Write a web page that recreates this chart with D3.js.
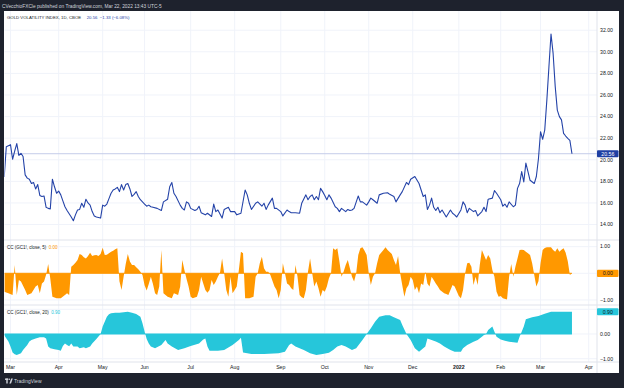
<!DOCTYPE html>
<html>
<head>
<meta charset="utf-8">
<script src="https://cdn.jsdelivr.net/npm/d3@7"></script>
<style>
  body { margin: 0; background: #1e222d; }
  svg { display: block; font-family: "Liberation Sans", Arial, sans-serif; }
</style>
</head>
<body>
<div id="chart"></div>
<script>
// Gold volatility index (daily close)
var volSeries = [
  ["2021-02-24",18.4],["2021-02-25",21.2],["2021-02-26",21.3],["2021-03-01",21.4],["2021-03-02",20.05],["2021-03-03",20.8],
  ["2021-03-04",21.5],["2021-03-05",20.4],["2021-03-08",20.6],["2021-03-09",20.3],["2021-03-10",18.6],["2021-03-11",18.3],
  ["2021-03-12",18.2],["2021-03-15",17.8],["2021-03-16",17.9],["2021-03-17",17.3],["2021-03-18",17.7],["2021-03-19",16.7],
  ["2021-03-22",16.6],["2021-03-23",16.65],["2021-03-24",15.6],["2021-03-25",15.5],["2021-03-26",15.45],["2021-03-29",18.2],
  ["2021-03-30",17.5],["2021-03-31",16.9],["2021-04-01",17.1],["2021-04-05",16.75],["2021-04-06",16.2],["2021-04-07",15.65],
  ["2021-04-08",15.3],["2021-04-09",15.0],["2021-04-12",14.7],["2021-04-13",14.35],["2021-04-14",14.9],["2021-04-15",15.35],
  ["2021-04-16",15.4],["2021-04-19",15.97],["2021-04-20",15.6],["2021-04-21",16.35],["2021-04-22",16.0],["2021-04-23",15.8],
  ["2021-04-26",15.2],["2021-04-27",14.8],["2021-04-28",14.7],["2021-04-29",14.65],["2021-04-30",14.6],["2021-05-03",15.8],
  ["2021-05-04",15.7],["2021-05-05",15.9],["2021-05-06",16.4],["2021-05-07",16.9],["2021-05-10",17.2],["2021-05-11",17.3],
  ["2021-05-12",17.45],["2021-05-13",17.05],["2021-05-14",17.7],["2021-05-17",17.2],["2021-05-18",17.7],["2021-05-19",17.8],
  ["2021-05-20",17.3],["2021-05-21",16.6],["2021-05-24",16.8],["2021-05-25",17.05],["2021-05-26",16.6],["2021-05-27",16.3],
  ["2021-05-28",16.1],["2021-06-01",15.9],["2021-06-02",15.7],["2021-06-03",15.8],["2021-06-04",15.65],["2021-06-07",15.6],
  ["2021-06-09",15.5],["2021-06-11",15.3],["2021-06-14",16.1],["2021-06-16",16.35],["2021-06-17",17.5],["2021-06-18",17.9],
  ["2021-06-21",16.9],["2021-06-22",16.6],["2021-06-24",15.8],["2021-06-25",15.5],["2021-06-28",15.35],["2021-06-29",16.1],
  ["2021-06-30",15.97],["2021-07-01",15.5],["2021-07-06",15.3],["2021-07-07",15.4],["2021-07-08",15.7],["2021-07-09",15.1],
  ["2021-07-13",14.9],["2021-07-14",15.05],["2021-07-16",14.75],["2021-07-19",15.9],["2021-07-20",15.2],["2021-07-21",15.35],
  ["2021-07-23",14.6],["2021-07-26",15.4],["2021-07-28",15.6],["2021-07-29",15.2],["2021-08-02",15.2],["2021-08-03",14.9],
  ["2021-08-05",15.05],["2021-08-09",17.2],["2021-08-10",16.75],["2021-08-11",15.97],["2021-08-12",15.4],["2021-08-16",15.97],
  ["2021-08-17",16.1],["2021-08-19",15.7],["2021-08-20",15.97],["2021-08-23",15.4],["2021-08-24",15.8],["2021-08-26",16.45],
  ["2021-08-27",15.5],["2021-08-30",15.5],["2021-09-01",15.2],["2021-09-02",14.8],["2021-09-07",15.35],["2021-09-08",15.2],
  ["2021-09-09",15.1],["2021-09-13",15.1],["2021-09-15",15.05],["2021-09-16",15.97],["2021-09-20",16.75],["2021-09-21",16.3],
  ["2021-09-22",16.6],["2021-09-23",16.75],["2021-09-24",16.3],["2021-09-27",16.6],["2021-09-28",16.3],["2021-09-29",17.35],
  ["2021-09-30",17.05],["2021-10-01",16.7],["2021-10-04",16.3],["2021-10-05",16.75],["2021-10-06",16.45],["2021-10-08",15.65],
  ["2021-10-11",15.5],["2021-10-12",15.2],["2021-10-13",15.5],["2021-10-15",15.2],["2021-10-18",15.4],["2021-10-19",15.3],
  ["2021-10-20",15.35],["2021-10-21",15.5],["2021-10-25",16.65],["2021-10-26",16.1],["2021-10-27",16.1],["2021-10-29",15.8],
  ["2021-11-01",16.1],["2021-11-02",16.45],["2021-11-03",16.3],["2021-11-05",15.97],["2021-11-08",16.75],["2021-11-10",16.9],
  ["2021-11-12",16.95],["2021-11-15",16.8],["2021-11-17",16.6],["2021-11-18",16.1],["2021-11-22",16.75],["2021-11-23",17.05],
  ["2021-11-26",17.9],["2021-11-29",17.7],["2021-11-30",18.2],["2021-12-02",18.45],["2021-12-06",17.8],["2021-12-07",17.2],
  ["2021-12-08",16.6],["2021-12-09",16.75],["2021-12-10",15.4],["2021-12-13",15.8],["2021-12-14",16.45],["2021-12-15",15.6],
  ["2021-12-16",15.3],["2021-12-17",15.6],["2021-12-20",15.1],["2021-12-21",15.35],["2021-12-23",14.7],["2021-12-28",15.35],
  ["2021-12-29",15.05],["2021-12-30",14.9],["2021-12-31",14.7],["2022-01-04",15.35],["2022-01-05",16.1],["2022-01-06",15.8],
  ["2022-01-07",15.1],["2022-01-10",15.5],["2022-01-12",15.2],["2022-01-13",15.3],["2022-01-14",14.8],["2022-01-19",15.2],
  ["2022-01-20",15.6],["2022-01-21",15.2],["2022-01-24",16.35],["2022-01-26",16.45],["2022-01-27",17.15],["2022-01-28",16.9],
  ["2022-01-31",16.6],["2022-02-01",16.3],["2022-02-02",15.7],["2022-02-03",15.9],["2022-02-04",15.6],["2022-02-07",16.1],
  ["2022-02-09",15.65],["2022-02-10",15.8],["2022-02-11",17.35],["2022-02-14",17.8],["2022-02-15",18.9],["2022-02-16",17.95],
  ["2022-02-17",19.7],["2022-02-18",18.9],["2022-02-22",18.1],["2022-02-24",17.8],["2022-02-25",18.45],["2022-02-28",20.1],
  ["2022-03-01",22.6],["2022-03-02",21.9],["2022-03-03",22.75],["2022-03-04",25.5],["2022-03-07",28.6],["2022-03-08",31.65],
  ["2022-03-09",29.85],["2022-03-10",26.8],["2022-03-11",24.6],["2022-03-14",24.0],["2022-03-15",23.7],["2022-03-16",22.45],
  ["2022-03-17",22.2],["2022-03-18",21.99],["2022-03-21",21.8],["2022-03-22",20.56]
];

// Correlation coefficient with GC1!, 5 bars
var cc5Series = [
  ["2021-02-24",-0.69],["2021-02-26",-0.75],["2021-03-02",-0.81],["2021-03-03",0.31],["2021-03-04",-0.81],["2021-03-05",-0.25],
  ["2021-03-08",-0.31],["2021-03-10",-0.63],["2021-03-11",-0.81],["2021-03-15",-0.75],["2021-03-17",-0.5],["2021-03-18",-0.44],
  ["2021-03-19",-0.75],["2021-03-22",-0.38],["2021-03-23",-0.31],["2021-03-24",-0.05],["2021-03-25",0.35],["2021-03-26",-0.2],
  ["2021-03-29",-0.88],["2021-03-31",-0.94],["2021-04-05",-0.94],["2021-04-07",-0.81],["2021-04-08",-0.75],["2021-04-09",-0.81],
  ["2021-04-12",0.25],["2021-04-13",0.31],["2021-04-14",0.4],["2021-04-15",0.5],["2021-04-16",0.72],["2021-04-19",0.69],
  ["2021-04-20",0.6],["2021-04-21",0.56],["2021-04-22",0.65],["2021-04-23",0.77],["2021-04-26",0.65],["2021-04-27",0.68],
  ["2021-04-28",0.69],["2021-04-29",0.65],["2021-04-30",0.72],["2021-05-03",0.96],["2021-05-04",0.69],["2021-05-05",0.7],
  ["2021-05-06",0.75],["2021-05-07",0.81],["2021-05-10",0.85],["2021-05-11",0.9],["2021-05-12",0.94],["2021-05-13",-0.3],
  ["2021-05-14",-0.63],["2021-05-17",-0.13],["2021-05-18",0.35],["2021-05-19",0.72],["2021-05-20",0.44],["2021-05-21",0.31],
  ["2021-05-24",0.31],["2021-05-25",0.23],["2021-05-26",0.15],["2021-05-27",0.06],["2021-05-28",-0.06],["2021-06-01",-0.45],
  ["2021-06-02",-0.65],["2021-06-03",-0.4],["2021-06-04",-0.13],["2021-06-07",-0.4],["2021-06-08",-0.75],["2021-06-09",-0.81],
  ["2021-06-10",-0.5],["2021-06-11",0.87],["2021-06-14",-0.75],["2021-06-16",-0.88],["2021-06-18",-0.94],["2021-06-21",-0.75],
  ["2021-06-23",-0.81],["2021-06-24",-0.5],["2021-06-25",0.5],["2021-06-28",0.12],["2021-06-29",-0.2],["2021-06-30",-0.5],
  ["2021-07-01",-0.88],["2021-07-02",-0.94],["2021-07-07",-0.88],["2021-07-08",-0.63],["2021-07-09",-0.13],["2021-07-12",-0.38],
  ["2021-07-13",-0.63],["2021-07-14",-0.73],["2021-07-15",-0.63],["2021-07-16",-0.25],["2021-07-19",-0.44],["2021-07-20",-0.31],
  ["2021-07-21",-0.13],["2021-07-22",0.02],["2021-07-23",0.56],["2021-07-26",0],["2021-07-27",-0.63],["2021-07-28",-0.88],
  ["2021-07-29",-0.13],["2021-07-30",-0.75],["2021-08-02",-0.63],["2021-08-03",-0.5],["2021-08-04",0.12],["2021-08-05",0.81],
  ["2021-08-06",0.75],["2021-08-09",-0.94],["2021-08-11",-0.94],["2021-08-13",-0.88],["2021-08-16",-0.13],["2021-08-17",0],
  ["2021-08-18",0.38],["2021-08-19",0.62],["2021-08-20",0.19],["2021-08-23",0.06],["2021-08-24",0.06],["2021-08-25",-0.05],
  ["2021-08-27",-0.5],["2021-08-30",-0.63],["2021-08-31",-0.94],["2021-09-01",-0.63],["2021-09-02",0.38],["2021-09-03",0],
  ["2021-09-07",-0.38],["2021-09-08",-0.44],["2021-09-09",-0.56],["2021-09-10",-0.63],["2021-09-13",0.31],["2021-09-14",-0.13],
  ["2021-09-15",-0.81],["2021-09-16",-0.9],["2021-09-17",-0.94],["2021-09-20",-0.63],["2021-09-21",0.06],["2021-09-22",0.56],
  ["2021-09-23",0],["2021-09-24",-0.5],["2021-09-27",-0.31],["2021-09-28",-0.56],["2021-09-29",-0.88],["2021-09-30",-0.63],
  ["2021-10-01",-0.69],["2021-10-04",-0.5],["2021-10-05",-0.19],["2021-10-06",0],["2021-10-07",0.94],["2021-10-08",0.87],
  ["2021-10-11",0.94],["2021-10-12",0.44],["2021-10-13",-0.13],["2021-10-14",0.06],["2021-10-15",0.31],["2021-10-18",0.5],
  ["2021-10-19",0.19],["2021-10-20",-0.13],["2021-10-21",-0.31],["2021-10-22",0],["2021-10-25",0.69],["2021-10-26",0.94],
  ["2021-10-27",0.98],["2021-10-28",0.85],["2021-10-29",0.69],["2021-11-01",0],["2021-11-02",-0.44],["2021-11-03",-0.13],
  ["2021-11-04",0],["2021-11-05",0.38],["2021-11-08",0.69],["2021-11-09",0.78],["2021-11-10",0.87],["2021-11-11",0.98],
  ["2021-11-12",0.87],["2021-11-15",0.8],["2021-11-16",0.72],["2021-11-17",0.5],["2021-11-18",0.31],["2021-11-19",0.65],
  ["2021-11-22",0],["2021-11-23",-0.45],["2021-11-24",-0.88],["2021-11-26",-0.56],["2021-11-29",-0.44],["2021-11-30",-0.13],
  ["2021-12-01",-0.25],["2021-12-02",-0.63],["2021-12-03",-0.5],["2021-12-06",-0.75],["2021-12-07",-0.38],["2021-12-08",-0.44],
  ["2021-12-09",0.06],["2021-12-10",-0.38],["2021-12-13",-0.5],["2021-12-14",-0.13],["2021-12-15",-0.25],["2021-12-16",-0.38],
  ["2021-12-17",-0.5],["2021-12-20",-0.63],["2021-12-22",-0.75],["2021-12-23",-0.78],["2021-12-27",-0.81],["2021-12-28",-0.63],
  ["2021-12-29",-0.44],["2021-12-30",-0.5],["2022-01-03",-0.85],["2022-01-04",-0.94],["2022-01-05",-0.63],["2022-01-06",0],
  ["2022-01-07",0.38],["2022-01-10",0.4],["2022-01-11",0.25],["2022-01-12",-0.44],["2022-01-13",-0.13],["2022-01-14",-0.44],
  ["2022-01-18",0.31],["2022-01-19",0.87],["2022-01-20",0.69],["2022-01-21",0.5],["2022-01-24",0.69],["2022-01-25",0.56],
  ["2022-01-26",0.12],["2022-01-27",-0.13],["2022-01-28",-0.69],["2022-01-31",-0.88],["2022-02-01",-0.85],["2022-02-02",-0.94],
  ["2022-02-04",-0.98],["2022-02-07",-0.13],["2022-02-08",0.35],["2022-02-09",-0.13],["2022-02-10",0.25],["2022-02-11",0.56],
  ["2022-02-14",0.87],["2022-02-15",0.88],["2022-02-16",0.87],["2022-02-17",0.81],["2022-02-18",0.75],["2022-02-22",0.69],
  ["2022-02-23",0.38],["2022-02-24",-0.06],["2022-02-25",-0.5],["2022-02-28",-0.3],["2022-03-01",0.38],["2022-03-02",0.87],
  ["2022-03-03",0.95],["2022-03-04",0.98],["2022-03-08",0.98],["2022-03-09",0.87],["2022-03-10",0.81],["2022-03-11",0.94],
  ["2022-03-14",0.81],["2022-03-15",0.88],["2022-03-16",0.94],["2022-03-17",0.77],["2022-03-18",0.45],["2022-03-21",-0.06],
  ["2022-03-22",0.0]
];

// Correlation coefficient with GC1!, 20 bars
var cc20Series = [
  ["2021-02-24",-0.05],["2021-02-26",-0.3],["2021-03-01",-0.51],["2021-03-02",-0.75],["2021-03-03",-0.82],["2021-03-04",-0.85],
  ["2021-03-08",-0.78],["2021-03-09",-0.65],["2021-03-11",-0.45],["2021-03-12",-0.3],["2021-03-15",-0.24],["2021-03-17",-0.18],
  ["2021-03-19",-0.13],["2021-03-23",-0.13],["2021-03-24",-0.18],["2021-03-25",-0.51],["2021-03-26",-0.58],["2021-03-30",-0.62],
  ["2021-04-01",-0.65],["2021-04-05",-0.68],["2021-04-06",-0.49],["2021-04-07",-0.38],["2021-04-08",-0.45],["2021-04-09",-0.5],
  ["2021-04-12",-0.38],["2021-04-13",-0.51],["2021-04-15",-0.51],["2021-04-16",-0.58],["2021-04-20",-0.54],["2021-04-21",-0.58],
  ["2021-04-23",-0.51],["2021-04-26",-0.38],["2021-04-28",-0.2],["2021-04-29",-0.1],["2021-04-30",0],["2021-05-03",0.3],
  ["2021-05-05",0.7],["2021-05-06",0.8],["2021-05-07",0.84],["2021-05-11",0.86],["2021-05-13",0.86],["2021-05-17",0.88],
  ["2021-05-19",0.9],["2021-05-21",0.86],["2021-05-25",0.81],["2021-05-27",0.7],["2021-05-28",0.43],["2021-06-01",0.1],
  ["2021-06-02",-0.2],["2021-06-03",-0.38],["2021-06-04",-0.51],["2021-06-08",-0.58],["2021-06-11",-0.45],["2021-06-15",-0.24],
  ["2021-06-16",-0.38],["2021-06-18",-0.51],["2021-06-23",-0.65],["2021-06-28",-0.58],["2021-07-01",-0.49],["2021-07-08",-0.38],
  ["2021-07-12",-0.22],["2021-07-13",-0.18],["2021-07-14",-0.51],["2021-07-15",-0.68],["2021-07-21",-0.68],["2021-07-26",-0.65],
  ["2021-07-30",-0.45],["2021-08-04",-0.24],["2021-08-05",-0.15],["2021-08-06",-0.75],["2021-08-12",-0.81],["2021-08-20",-0.81],
  ["2021-08-31",-0.78],["2021-09-03",-0.72],["2021-09-08",-0.45],["2021-09-09",-0.38],["2021-09-13",-0.51],["2021-09-17",-0.65],
  ["2021-09-22",-0.78],["2021-09-27",-0.85],["2021-09-30",-0.81],["2021-10-05",-0.76],["2021-10-07",-0.65],["2021-10-11",-0.51],
  ["2021-10-13",-0.45],["2021-10-15",-0.51],["2021-10-20",-0.65],["2021-10-22",-0.58],["2021-10-27",-0.24],["2021-10-29",0],
  ["2021-11-02",0.23],["2021-11-04",0.5],["2021-11-08",0.7],["2021-11-11",0.76],["2021-11-15",0.76],["2021-11-17",0.68],
  ["2021-11-22",0.57],["2021-11-23",0.36],["2021-11-26",0],["2021-11-30",-0.24],["2021-12-02",-0.58],["2021-12-06",-0.72],
  ["2021-12-07",-0.65],["2021-12-09",-0.51],["2021-12-10",-0.18],["2021-12-14",-0.24],["2021-12-16",-0.3],["2021-12-20",-0.38],
  ["2021-12-22",-0.51],["2021-12-28",-0.65],["2021-12-30",-0.72],["2022-01-04",-0.72],["2022-01-05",-0.58],["2022-01-07",-0.45],
  ["2022-01-12",-0.31],["2022-01-14",-0.24],["2022-01-19",-0.11],["2022-01-20",-0.04],["2022-01-21",0],["2022-01-24",0.16],
  ["2022-01-26",0.3],["2022-01-27",0.09],["2022-01-28",-0.11],["2022-02-01",-0.22],["2022-02-03",-0.27],["2022-02-07",-0.31],
  ["2022-02-11",-0.35],["2022-02-14",-0.11],["2022-02-15",0.09],["2022-02-16",0.3],["2022-02-17",0.6],["2022-02-23",0.68],
  ["2022-02-28",0.73],["2022-03-03",0.82],["2022-03-08",0.9],["2022-03-15",0.9],["2022-03-22",0.9]
];

var volTicks = [14, 16, 18, 20, 22, 24, 26, 28, 30, 32];
var ccTicks = [-1, 0, 1];
var holidays = ["2021-04-02", "2021-05-31", "2021-07-05", "2021-09-06",
                "2021-11-25", "2021-12-24", "2022-01-17", "2022-02-21"];
var monthStarts = ["2021-03", "2021-04", "2021-05", "2021-06", "2021-07", "2021-08", "2021-09",
                   "2021-10", "2021-11", "2021-12", "2022-01", "2022-02", "2022-03", "2022-04"];

var headerText = "CVecchioFXCle published on TradingView.com, Mar 22, 2022 13:43 UTC-5";
var mainTitle = "GOLD VOLATILITY INDEX, 1D, CBOE";
var mainLast = "20.56  \u22121.33 (\u22126.08%)";

// Layout
var width = 624, height = 388;
var plotL = 4.5, plotR = 597;
var mainTop = 11, mainBot = 240, cc5Bot = 305, cc20Bot = 362, boxBot = 373;

var blue = "#2443a8", orange = "#ff9800", cyan = "#26c6da";
var gridColor = "#f0f3fa", sepColor = "#e0e3eb", textColor = "#131722";

var fmt = d3.timeFormat("%Y-%m-%d");
var parseMonth = d3.timeParse("%Y-%m");

// trading-day calendar (bars are spaced by session, not calendar day)
var tradingDays = d3.timeDays(new Date(2021, 1, 22), new Date(2022, 3, 9))
    .filter(function(d) {
        return d.getDay() % 6 !== 0 && holidays.indexOf(fmt(d)) < 0;
    });
var origin = tradingDays.findIndex(function(d) { return fmt(d) === "2021-03-01"; });
var barIndex = new Map(tradingDays.map(function(d, i) { return [fmt(d), i - origin]; }));

var x = d3.scaleLinear()
    .domain([-2.86, 279.95])
    .range([plotL, plotR]);

var yVol = d3.scaleLinear().domain([12.57, 33.78]).range([mainBot, mainTop]);
var yCC5 = d3.scaleLinear().domain([-1.19, 1.25]).range([cc5Bot, mainBot]);
var yCC20 = d3.scaleLinear().domain([-1.134, 1.174]).range([cc20Bot, cc5Bot]);

var bx = function(d) { return x(barIndex.get(d[0])); };

var svg = d3.select("#chart").append("svg")
    .attr("width", width)
    .attr("height", height);

svg.append("rect")
    .attr("width", width).attr("height", height)
    .attr("fill", "#1e222d");

svg.append("rect")
    .attr("x", 4).attr("y", mainTop)
    .attr("width", 615).attr("height", boxBot - mainTop)
    .attr("fill", "#ffffff");

// clip paths per pane
var defs = svg.append("defs");
[["clipMain", mainTop, mainBot], ["clipCC5", mainBot, cc5Bot], ["clipCC20", cc5Bot, cc20Bot]]
    .forEach(function(c) {
        defs.append("clipPath").attr("id", c[0])
          .append("rect")
            .attr("x", plotL).attr("y", c[1])
            .attr("width", plotR - plotL).attr("height", c[2] - c[1]);
    });

// month ticks
var monthTicks = monthStarts.map(function(m) {
    var start = parseMonth(m);
    var first = tradingDays.find(function(d) { return d >= start; });
    return { date: start, idx: barIndex.get(fmt(first)) };
});

var grid = svg.append("g");

grid.selectAll(".vgrid")
    .data(monthTicks)
  .enter().append("line")
    .attr("x1", function(d) { return x(d.idx); })
    .attr("x2", function(d) { return x(d.idx); })
    .attr("y1", mainTop).attr("y2", cc20Bot)
    .attr("stroke", gridColor);

grid.selectAll(".hgridMain")
    .data(volTicks)
  .enter().append("line")
    .attr("x1", plotL).attr("x2", plotR)
    .attr("y1", function(d) { return yVol(d); })
    .attr("y2", function(d) { return yVol(d); })
    .attr("stroke", gridColor);

[yCC5, yCC20].forEach(function(y) {
    grid.selectAll(null)
        .data(ccTicks)
      .enter().append("line")
        .attr("x1", plotL).attr("x2", plotR)
        .attr("y1", function(d) { return y(d); })
        .attr("y2", function(d) { return y(d); })
        .attr("stroke", gridColor);
});

// pane separators
[mainBot, cc5Bot, cc20Bot].forEach(function(yy) {
    svg.append("line")
        .attr("x1", 4).attr("x2", 619)
        .attr("y1", yy).attr("y2", yy)
        .attr("stroke", sepColor);
});
svg.append("line")
    .attr("x1", plotR).attr("x2", plotR)
    .attr("y1", mainTop).attr("y2", boxBot)
    .attr("stroke", sepColor);

// last value price line
var lastVol = volSeries[volSeries.length - 1][1];
svg.append("line")
    .attr("x1", plotL).attr("x2", plotR)
    .attr("y1", yVol(lastVol)).attr("y2", yVol(lastVol))
    .attr("stroke", "#c5cce9");

// main line
svg.append("path")
    .datum(volSeries)
    .attr("clip-path", "url(#clipMain)")
    .attr("fill", "none")
    .attr("stroke", blue)
    .attr("stroke-width", 1.1)
    .attr("stroke-linejoin", "round")
    .attr("d", d3.line().x(bx).y(function(d) { return yVol(d[1]); }));

// correlation areas
var drawCC = function(data, y, color, clip) {
    var g = svg.append("g").attr("clip-path", "url(#" + clip + ")");
    g.append("path")
        .datum(data)
        .attr("fill", color)
        .attr("d", d3.area().x(bx).y0(y(0)).y1(function(d) { return y(d[1]); }));
    g.append("line")
        .attr("x1", bx(data[0])).attr("x2", bx(data[data.length - 1]))
        .attr("y1", y(0)).attr("y2", y(0))
        .attr("stroke", color);
};
drawCC(cc5Series, yCC5, orange, "clipCC5");
drawCC(cc20Series, yCC20, cyan, "clipCC20");

var num = d3.format(".2f");
var signed = function(d) { return num(d).replace("-", "\u2212"); };
var lastCC5 = cc5Series[cc5Series.length - 1][1];
var lastCC20 = cc20Series[cc20Series.length - 1][1];

// right axis labels (those under a value badge are hidden, as on the platform)
var axisText = function(ticks, y, f, badgeValue) {
    svg.append("g").selectAll("text")
        .data(ticks.filter(function(d) {
            return Math.abs(y(d) - y(badgeValue)) > 6.5;
        }))
      .enter().append("text")
        .attr("x", 600)
        .attr("y", function(d) { return y(d); })
        .attr("dy", "0.35em")
        .attr("font-size", 5.2)
        .attr("fill", textColor)
        .text(f);
};
axisText(volTicks, yVol, num, lastVol - 10);
axisText(ccTicks, yCC5, signed, lastCC5);
axisText(ccTicks, yCC20, signed, lastCC20);

// value badges
var badge = function(y, value, fill, color) {
    svg.append("rect")
        .attr("x", 597).attr("y", y - 3.6)
        .attr("width", 21.5).attr("height", 7.2)
        .attr("rx", 1)
        .attr("fill", fill);
    svg.append("text")
        .attr("x", 607.8).attr("y", y)
        .attr("dy", "0.35em")
        .attr("text-anchor", "middle")
        .attr("font-size", 5.2)
        .attr("fill", color)
        .text(num(value));
};
badge(yVol(lastVol), lastVol, "#1f3fa3", "#ffffff");
badge(yCC5(lastCC5), lastCC5, orange, textColor);
badge(yCC20(lastCC20), lastCC20, cyan, textColor);

// time axis
svg.append("g").selectAll("text")
    .data(monthTicks)
  .enter().append("text")
    .attr("x", function(d) { return x(d.idx); })
    .attr("y", 369.2)
    .attr("text-anchor", "middle")
    .attr("font-size", 5.2)
    .attr("font-weight", function(d) { return d.date.getMonth() === 0 ? "bold" : "normal"; })
    .attr("fill", textColor)
    .text(function(d) {
        return d.date.getMonth() === 0 ? d3.timeFormat("%Y")(d.date) : d3.timeFormat("%b")(d.date);
    });

// pane legends
svg.append("text")
    .attr("x", 7).attr("y", 19)
    .attr("font-size", 4.3).attr("fill", textColor)
    .text(mainTitle);
svg.append("text")
    .attr("x", 86.7).attr("y", 19)
    .attr("font-size", 4.3).attr("fill", blue)
    .style("white-space", "pre")
    .text(mainLast);

var legend = function(y, label, value, color) {
    var t = svg.append("text")
        .attr("x", 7).attr("y", y)
        .attr("font-size", 4.5).attr("fill", textColor)
        .style("white-space", "pre")
        .text(label + "  ");
    t.append("tspan").attr("fill", color).text(num(value));
};
legend(249, "CC (GC1!, close, 5)", lastCC5, orange);
legend(314, "CC (GC1!, close, 20)", lastCC20, cyan);

// header and footer
svg.append("text")
    .attr("x", 2).attr("y", 7.5)
    .attr("font-size", 4.8).attr("fill", "#d1d4dc")
    .text(headerText);

var logo = svg.append("g").attr("fill", "#d1d4dc");
logo.append("rect").attr("x", 5).attr("y", 378.5).attr("width", 3.2).attr("height", 1.4);
logo.append("rect").attr("x", 6.3).attr("y", 378.5).attr("width", 1.4).attr("height", 5);
logo.append("circle").attr("cx", 9.3).attr("cy", 379.2).attr("r", 0.8);
logo.append("path").attr("d", "M9.4,383.5 L11.2,378.5 L12.8,378.5 L11,383.5 Z");
svg.append("text")
    .attr("x", 14).attr("y", 383.3)
    .attr("font-size", 5).attr("fill", "#d1d4dc")
    .text("TradingView");
</script>
</body>
</html>
